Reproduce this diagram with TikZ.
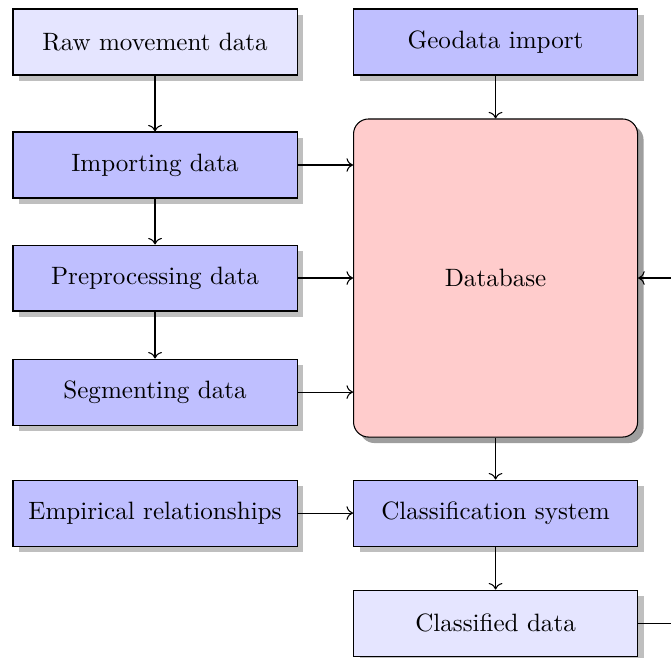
\documentclass[tikz,border=0pt]{standalone}
\usetikzlibrary{shadows, arrows.meta}

\begin{document}
\begin{tikzpicture}[
    font=\fontsize{9.5}{11}\selectfont,
    stage/.style={draw, fill=blue!25, minimum width=3.78cm, minimum height=0.878cm, drop shadow={shadow xshift=0.08cm, shadow yshift=-0.08cm, fill=black!25, opacity=1}},
    lightstage/.style={stage, fill=blue!10},
    store/.style={draw, fill=red!20, rounded corners=0.2cm, minimum width=3.78cm, minimum height=4.233cm, drop shadow={shadow xshift=0.08cm, shadow yshift=-0.08cm, fill=black!38, opacity=1}}
  ]
  \useasboundingbox (0,0) rectangle (8.93,8.745);
  % left column
  \node[lightstage] (raw) at (2.063,8.186) {Raw movement data};
  \node[stage] (import) at (2.063,6.549) {Importing data};
  \node[stage] (prep) at (2.063,5.045) {Preprocessing data};
  \node[stage] (seg) at (2.063,3.527) {Segmenting data};
  \node[stage] (emp) at (2.063,1.917) {Empirical relationships};
  % right column
  \node[stage] (geo) at (6.595,8.186) {Geodata import};
  \node[store] (db) at (6.595,5.045) {Database};
  \node[stage] (cls) at (6.595,1.917) {Classification system};
  \node[lightstage] (out) at (6.595,0.453) {Classified data};
  \coordinate (loop) at (9.4,0.453);

  \draw[->] (raw) -- (import);
  \draw[->] (import) -- (prep);
  \draw[->] (prep) -- (seg);
  \draw[->] (import.east) -- (import.east -| db.west);
  \draw[->] (prep.east) -- (prep.east -| db.west);
  \draw[->] (seg.east) -- (seg.east -| db.west);
  \draw[->] (geo) -- (db);
  \draw[->] (db) -- (cls);
  \draw[->] (emp) -- (cls);
  \draw[->] (cls) -- (out);
  \draw[->] (out.east) -- (loop) |- (db.east);
\end{tikzpicture}
\end{document}
